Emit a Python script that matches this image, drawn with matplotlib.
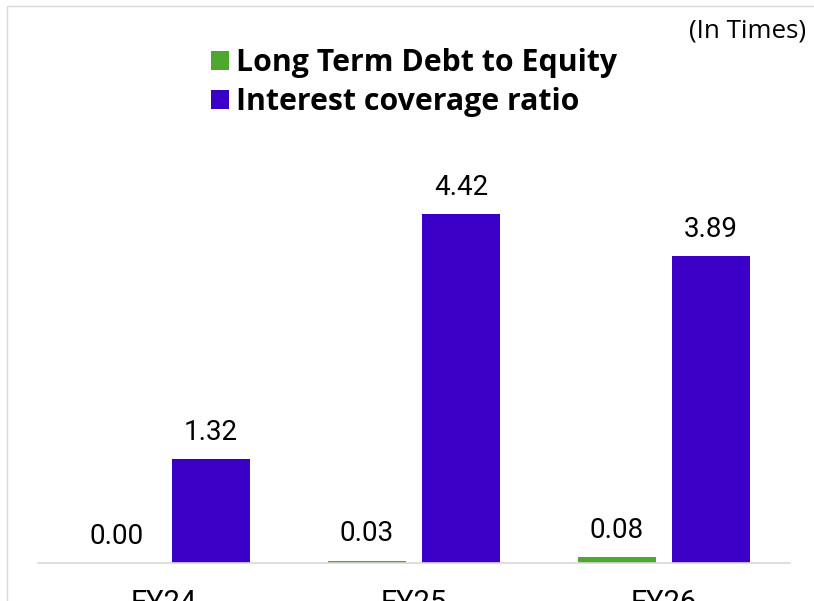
import matplotlib
matplotlib.use("Agg")
import matplotlib.pyplot as plt
from matplotlib.patches import Rectangle
import numpy as np

categories = ["FY24", "FY25", "FY26"]
debt_equity = [0.00, 0.03, 0.08]
interest_cov = [1.32, 4.42, 3.89]
series_names = ["Long Term Debt to Equity", "Interest coverage ratio"]
colors = ["#4EA72E", "#3A00C8"]
unit_note = "(In Times)"

W, H = 814, 601
fig = plt.figure(figsize=(W / 100, H / 100), dpi=100)

# light frame
fig.patches.append(Rectangle((7 / W, -0.1), 1.2, (H - 6) / H + 0.1, transform=fig.transFigure,
                             fill=False, edgecolor="#D9D9D9", linewidth=1.0))

ax = fig.add_axes([38 / W, 38 / H, (790 - 38) / W, 395 / H])
x = np.arange(len(categories))
bw = 0.312
off = 0.188
b1 = ax.bar(x - off, debt_equity, bw, color=colors[0], label=series_names[0])
b2 = ax.bar(x + off, interest_cov, bw, color=colors[1], label=series_names[1])

ax.set_xlim(-0.504, 2.504)
ax.set_ylim(0, 5)
for s in ["top", "right", "left"]:
    ax.spines[s].set_visible(False)
ax.spines["bottom"].set_color("#D9D9D9")
ax.spines["bottom"].set_linewidth(1.2)
ax.set_yticks([])
ax.set_xticks(x)
ax.set_xticklabels(categories, fontsize=21, family="Roboto")
ax.tick_params(axis="x", length=0, pad=19)

for bars, vals in [(b1, debt_equity), (b2, interest_cov)]:
    for r, v in zip(bars, vals):
        ax.annotate(f"{v:.2f}", (r.get_x() + r.get_width() / 2, r.get_height()),
                    xytext=(0, 13.8), textcoords="offset points", ha="center", va="baseline",
                    fontsize=20, family="Roboto", color="black")

leg = fig.legend(handles=[b1, b2], labels=series_names, loc="upper left",
                 bbox_to_anchor=(211 / W, 1 - 48 / H), frameon=False,
                 handlelength=0.58, handleheight=0.58, handletextpad=0.25,
                 labelspacing=0.3, borderaxespad=0, borderpad=0,
                 prop={"family": "Open Sans", "weight": "bold", "size": 21.8})

fig.text(806 / W, 1 - 31 / H, unit_note, ha="right", va="center", fontsize=18.7, family="Open Sans")

fig.savefig("out.png", dpi=100)
